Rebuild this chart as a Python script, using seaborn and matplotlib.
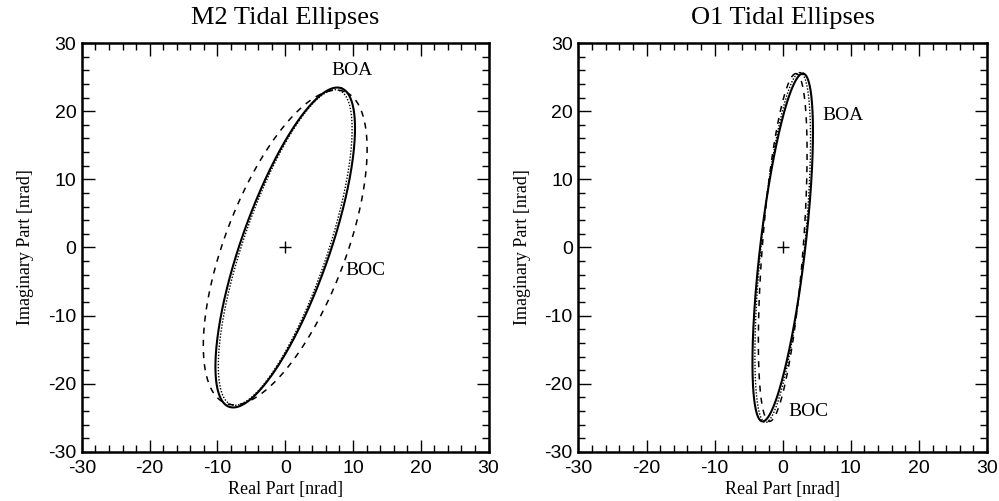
import matplotlib
matplotlib.use('Agg')
import matplotlib.pyplot as plt
from matplotlib.ticker import MultipleLocator
import seaborn as sns
import numpy as np
import pandas as pd

# tidal ellipse parameters (semi-major, semi-minor [nrad], inclination [deg])
# order of entries: solid, dotted, dashed
m2_major = [24.8, 24.4, 24.5]
m2_minor = [6.5, 6.2, 8.9]
m2_incl = [70.5, 71.0, 69.0]

o1_major = [25.7, 25.8, 25.6]
o1_minor = [3.3, 3.2, 3.0]
o1_incl = [83.3, 84.3, 85.6]

styles = ['solid', 'dotted', 'dashed']

# station labels (x, y) in data units
m2_labels = {'BOA': (9.9, 26.0), 'BOC': (11.8, -3.4)}
o1_labels = {'BOA': (8.8, 19.4), 'BOC': (3.8, -24.0)}

sns.set_style('ticks')
plt.rcParams['font.family'] = ['Liberation Serif', 'DejaVu Serif']
plt.rcParams['axes.unicode_minus'] = False
for key in ['axes.edgecolor', 'axes.labelcolor', 'text.color', 'xtick.color', 'ytick.color']:
    plt.rcParams[key] = 'black'


def ellipse_frame(major, minor, incl):
    t = np.linspace(0, 2 * np.pi, 361)
    rows = []
    for a, b, ang, st in zip(major, minor, incl, styles):
        th = np.deg2rad(ang)
        x = a * np.cos(t) * np.cos(th) - b * np.sin(t) * np.sin(th)
        y = a * np.cos(t) * np.sin(th) + b * np.sin(t) * np.cos(th)
        rows.append(pd.DataFrame({'x': x, 'y': y, 'style': st}))
    return pd.concat(rows, ignore_index=True)


def draw_panel(ax, major, minor, incl, labels, title):
    df = ellipse_frame(major, minor, incl)
    lw = {'solid': 1.5, 'dotted': 1.0, 'dashed': 1.1}
    dash = {'solid': '-', 'dotted': (0, (1, 1.2)), 'dashed': (0, (4, 4))}
    for st in styles:
        sub = df[df['style'] == st]
        sns.lineplot(data=sub, x='x', y='y', sort=False, estimator=None, color='black',
                     linewidth=lw[st], linestyle=dash[st], ax=ax)
    ax.plot([0], [0], marker='+', color='black', markersize=9, markeredgewidth=1.0)
    for name, (lx, ly) in labels.items():
        ax.text(lx, ly, name, fontsize=14, ha='center', va='center')
    ax.set_xlim(-30, 30)
    ax.set_ylim(-30, 30)
    ax.xaxis.set_major_locator(MultipleLocator(10))
    ax.yaxis.set_major_locator(MultipleLocator(10))
    ax.xaxis.set_minor_locator(MultipleLocator(2))
    ax.yaxis.set_minor_locator(MultipleLocator(2))
    ax.tick_params(which='both', direction='in', top=True, right=True, width=1.0)
    ax.tick_params(which='major', length=9, labelsize=14)
    ax.tick_params(axis='x', which='major', pad=6)
    ax.tick_params(axis='y', which='major', pad=4)
    ax.tick_params(which='minor', length=5)
    for lab in ax.get_xticklabels() + ax.get_yticklabels():
        lab.set_family('Liberation Sans')
    for sp in ax.spines.values():
        sp.set_linewidth(1.8)
    ax.set_title(title, fontsize=19, pad=14)
    ax.set_xlabel('Real Part [nrad]', fontsize=13, labelpad=3)
    ax.set_ylabel('Imaginary Part [nrad]', fontsize=13, labelpad=10)


fig = plt.figure(figsize=(9.99, 5.01), dpi=100)
ax1 = fig.add_axes([0.082, 0.098, 0.407, 0.816])
ax2 = fig.add_axes([0.579, 0.098, 0.409, 0.816])

draw_panel(ax1, m2_major, m2_minor, m2_incl, m2_labels, 'M2 Tidal Ellipses')
draw_panel(ax2, o1_major, o1_minor, o1_incl, o1_labels, 'O1 Tidal Ellipses')

fig.savefig('out.png', dpi=100)
